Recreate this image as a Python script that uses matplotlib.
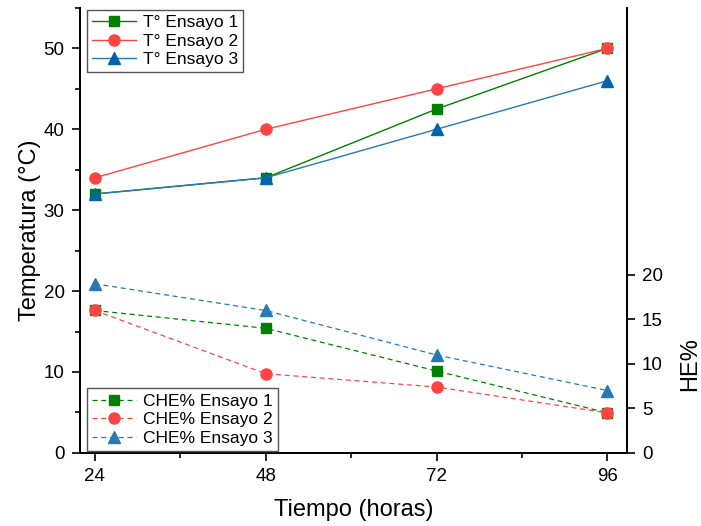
import matplotlib
matplotlib.use('Agg')
import matplotlib.pyplot as plt
from matplotlib.ticker import MultipleLocator

plt.rcParams['font.family'] = ['Liberation Sans', 'DejaVu Sans']

# datos
tiempo = [24, 48, 72, 96]
temp_e1 = [32, 34, 42.5, 50]
temp_e2 = [34, 40, 45, 50]
temp_e3 = [32, 34, 40, 46]
che_e1 = [16, 14, 9.2, 4.5]
che_e2 = [16, 8.9, 7.4, 4.5]
che_e3 = [19, 16, 11, 7]

verde = '#008000'
rojo = '#FF4444'
azul = '#2878B8'
azul_osc = '#0563AC'

fig = plt.figure(figsize=(7.01, 5.26), dpi=100)
ax = fig.add_axes([0.114, 0.139, 0.780, 0.846])
ax2 = ax.twinx()

# temperaturas
l1, = ax.plot(tiempo, temp_e1, '-s', color=verde, lw=1, ms=7, label='T° Ensayo 1')
l2, = ax.plot(tiempo, temp_e2, '-o', color=rojo, lw=1, ms=8, label='T° Ensayo 2')
l3, = ax.plot(tiempo, temp_e3, '-^', color=azul, mfc=azul_osc, mec=azul_osc, lw=1, ms=8, label='T° Ensayo 3')

# CHE%
c1, = ax2.plot(tiempo, che_e1, '--s', color=verde, lw=0.9, ms=7, label='CHE% Ensayo 1', dashes=(4, 3))
c2, = ax2.plot(tiempo, che_e2, '--o', color=rojo, lw=0.9, ms=8, label='CHE% Ensayo 2', dashes=(4, 3))
c3, = ax2.plot(tiempo, che_e3, '--^', color=azul, lw=0.9, ms=8, label='CHE% Ensayo 3', dashes=(4, 3))

ax.set_xlim(21.9, 98.7)
ax.set_ylim(0, 55)
ax2.set_ylim(0, 50)
ax.set_xticks(tiempo)
ax.xaxis.set_minor_locator(MultipleLocator(12))
ax.set_yticks([0, 10, 20, 30, 40, 50])
ax.yaxis.set_minor_locator(MultipleLocator(5))
ax2.set_yticks([0, 5, 10, 15, 20])

for a in (ax, ax2):
    a.spines['top'].set_visible(False)
    for s in a.spines.values():
        s.set_linewidth(1.3)
    a.tick_params(which='major', direction='out', length=6, width=1.2, labelsize=13.5, pad=5)
    a.tick_params(which='minor', direction='out', length=3.5, width=1.2)

ax.set_xlabel('Tiempo (horas)', fontsize=17, labelpad=10)
ax.set_ylabel('Temperatura (°C)', fontsize=17, labelpad=2)
ax2.set_ylabel('HE%', fontsize=17)
ax2.yaxis.set_label_coords(1.095, 0.2)

leg_kw = dict(fontsize=12.5, fancybox=False, edgecolor='#555555', framealpha=1,
              borderaxespad=0.1, handlelength=2.5, handletextpad=0.4,
              labelspacing=0.2, borderpad=0.3)
leg1 = ax2.legend(handles=[l1, l2, l3], loc='upper left', bbox_to_anchor=(0.01, 1.0), **leg_kw)
ax2.add_artist(leg1)
ax2.legend(handles=[c1, c2, c3], loc='lower left', bbox_to_anchor=(0.01, 0.0), **leg_kw)

plt.savefig('out.png', dpi=100)
plt.close()
